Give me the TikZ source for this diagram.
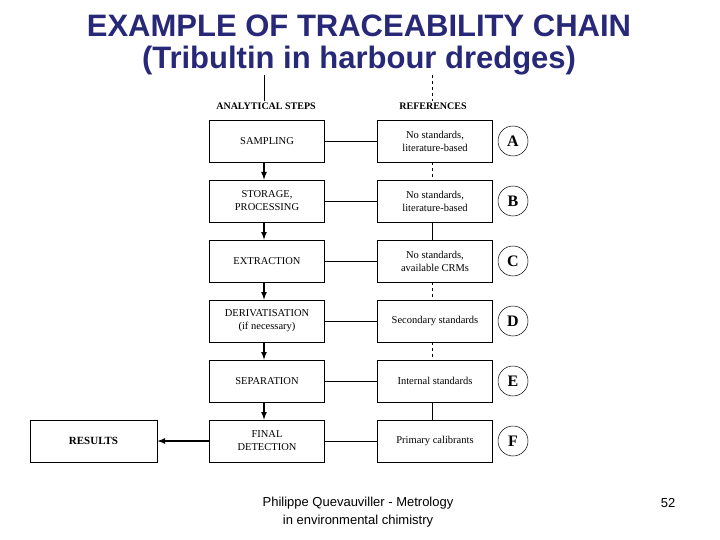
\documentclass[tikz,border=0pt]{standalone}
\usepackage{fontspec}
\setmainfont{Liberation Serif}
\newfontfamily\arialf{Liberation Sans}
\definecolor{titleblue}{RGB}{40,40,120}
\begin{document}
\begin{tikzpicture}[x=1pt,y=-1pt,
  stepbox/.style={draw,line width=0.8pt,minimum width=115pt,minimum height=42pt,align=center,font=\fontsize{10.5}{13}\selectfont,inner sep=1pt},
  lett/.style={circle,draw,line width=0.5pt,minimum size=30pt,inner sep=0pt,font=\fontsize{16}{18}\selectfont\bfseries},
  flow/.style={line width=1.6pt,-{latex}},
  link/.style={line width=0.6pt}]
\useasboundingbox (0,0) rectangle (720,540);
\node[font=\arialf\bfseries\fontsize{31}{32}\selectfont,text=titleblue,align=center] (title) at (359,45) {EXAMPLE OF TRACEABILITY CHAIN\\(Tribultin in harbour dredges)};
\coordinate (tl) at (264,75);
\coordinate (tr) at (432,75);
\node[font=\fontsize{10}{12}\selectfont\bfseries,fill=white,inner sep=1pt] (ha) at (266,106) {ANALYTICAL STEPS};
\node[font=\fontsize{10}{12}\selectfont\bfseries,fill=white,inner sep=1pt] (hr) at (433,106) {REFERENCES};
\node[stepbox] (s1) at (267,141) {SAMPLING};
\node[stepbox] (s2) at (267,201) {STORAGE,\\PROCESSING};
\node[stepbox] (s3) at (267,261) {EXTRACTION};
\node[stepbox] (s4) at (267,321) {DERIVATISATION\\(if necessary)};
\node[stepbox] (s5) at (267,381) {SEPARATION};
\node[stepbox] (s6) at (267,441) {FINAL\\DETECTION};
\node[stepbox] (r1) at (435,141) {No standards,\\literature-based};
\node[stepbox] (r2) at (435,201) {No standards,\\literature-based};
\node[stepbox] (r3) at (435,261) {No standards,\\available CRMs};
\node[stepbox] (r4) at (435,321) {Secondary standards};
\node[stepbox] (r5) at (435,381) {Internal standards};
\node[stepbox] (r6) at (435,441) {Primary calibrants};
\node[stepbox,minimum width=127pt,font=\fontsize{11}{13}\selectfont\bfseries] (res) at (93.5,441) {RESULTS};
\foreach \i/\l in {1/A,2/B,3/C,4/D,5/E,6/F}{
  \node[lett] (c\i) at (513,\i*60+81) {\l};
  \draw[link] (s\i) -- (r\i);
}
\draw[line width=0.6pt] (tl) -- (ha.north -| tl);
\draw[line width=0.6pt,dashed] (tr) -- (hr.north -| tr);
\foreach \a/\b in {1/2,2/3,3/4,4/5,5/6} \draw[flow] (s\a.south -| tl) -- (s\b.north -| tl);
\draw[link,dashed] (r1.south -| tr) -- (r2.north -| tr);
\draw[link] (r2.south -| tr) -- (r3.north -| tr);
\draw[link,dashed] (r3.south -| tr) -- (r4.north -| tr);
\draw[link,dashed] (r4.south -| tr) -- (r5.north -| tr);
\draw[link] (r5.south -| tr) -- (r6.north -| tr);
\draw[flow] (s6.west) -- (res.east);
\node[font=\arialf\fontsize{13}{18}\selectfont,align=center] (foot) at (358,512) {Philippe Quevauviller - Metrology\\in environmental chimistry};
\node[font=\arialf\fontsize{13}{16}\selectfont] (pg) at (668,503) {52};
\end{tikzpicture}
\end{document}
